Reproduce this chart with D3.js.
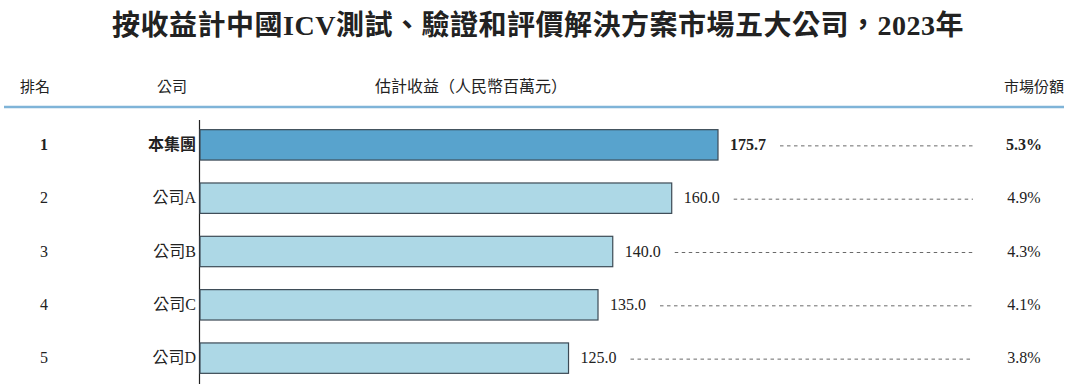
<!DOCTYPE html>
<html>
<head>
<meta charset="utf-8">
<script src="https://d3js.org/d3.v7.min.js"></script>
<style>
body { margin: 0; background: #fff; }
text { font-family: "Liberation Serif", "Noto Sans CJK TC", serif; fill: #222; }
</style>
</head>
<body>
<div id="chart"></div>
<script>
// data
var ranks = ["1", "2", "3", "4", "5"];
var companies = ["本集團", "公司A", "公司B", "公司C", "公司D"];
var revenues = [175.7, 160.0, 140.0, 135.0, 125.0];
var shares = ["5.3%", "4.9%", "4.3%", "4.1%", "3.8%"];

var width = 1080, height = 389;
var svg = d3.select("#chart").append("svg")
  .attr("width", width).attr("height", height);

// title
svg.append("text")
  .attr("x", 538).attr("y", 35)
  .attr("text-anchor", "middle")
  .style("font-size", "28px").style("font-weight", "bold")
  .style("letter-spacing", "0.5px")
  .text("按收益計中國ICV測試、驗證和評價解決方案市場五大公司，2023年");

// header
var headY = 92;
svg.append("text").attr("x", 35).attr("y", headY).attr("text-anchor", "middle")
  .style("font-size", "15px").text("排名");
svg.append("text").attr("x", 172).attr("y", headY).attr("text-anchor", "middle")
  .style("font-size", "15px").text("公司");
svg.append("text").attr("x", 471).attr("y", headY).attr("text-anchor", "middle")
  .style("font-size", "16px").text("估計收益（人民幣百萬元）");
svg.append("text").attr("x", 1064).attr("y", headY).attr("text-anchor", "end")
  .style("font-size", "15px").text("市場份額");

svg.append("line")
  .attr("x1", 4).attr("x2", 1064).attr("y1", 107).attr("y2", 107)
  .style("stroke", "#7fb4d8").style("stroke-width", 2.5);

// scales
var x = d3.scaleLinear().domain([0, 175.7]).range([200, 718]);
var y = d3.scaleBand().domain(companies).range([119, 384]).paddingInner(0.43).paddingOuter(0.2);

// axis line
svg.append("line")
  .attr("x1", 199.5).attr("x2", 199.5).attr("y1", 120).attr("y2", 384)
  .style("stroke", "#222").style("stroke-width", 1.2);

var rows = svg.selectAll("g.row").data(companies).enter().append("g").attr("class", "row");

rows.append("rect")
  .attr("x", x(0))
  .attr("y", function(d) { return y(d); })
  .attr("width", function(d, i) { return x(revenues[i]) - x(0); })
  .attr("height", y.bandwidth())
  .style("fill", function(d, i) { return i === 0 ? "#58a3cd" : "#add8e6"; })
  .style("stroke", "#3c4a55").style("stroke-width", 1.2);

function cy(d) { return y(d) + y.bandwidth() / 2; }

rows.append("text")
  .attr("x", 44).attr("y", function(d) { return cy(d) + 5; })
  .attr("text-anchor", "middle")
  .style("font-size", "16px")
  .style("font-weight", function(d, i) { return i === 0 ? "bold" : "normal"; })
  .text(function(d, i) { return ranks[i]; });

rows.append("text")
  .attr("x", 196).attr("y", function(d) { return cy(d) + 5; })
  .attr("text-anchor", "end")
  .style("font-size", "16px")
  .style("font-weight", function(d, i) { return i === 0 ? "bold" : "normal"; })
  .text(function(d) { return d; });

rows.append("text")
  .attr("x", function(d, i) { return x(revenues[i]) + 12; })
  .attr("y", function(d) { return cy(d) + 5; })
  .style("font-size", "16px")
  .style("font-weight", function(d, i) { return i === 0 ? "bold" : "normal"; })
  .text(function(d, i) { return revenues[i].toFixed(1); });

rows.append("line")
  .attr("x1", function(d, i) { return x(revenues[i]) + 62; })
  .attr("x2", 973)
  .attr("y1", function(d) { return cy(d) + 1; })
  .attr("y2", function(d) { return cy(d) + 1; })
  .style("stroke", "#444").style("stroke-width", 0.8)
  .style("stroke-dasharray", "3.5,3.5");

rows.append("text")
  .attr("x", 1024).attr("y", function(d) { return cy(d) + 5; })
  .attr("text-anchor", "middle")
  .style("font-size", "16px")
  .style("font-weight", function(d, i) { return i === 0 ? "bold" : "normal"; })
  .text(function(d, i) { return shares[i]; });
</script>
</body>
</html>
